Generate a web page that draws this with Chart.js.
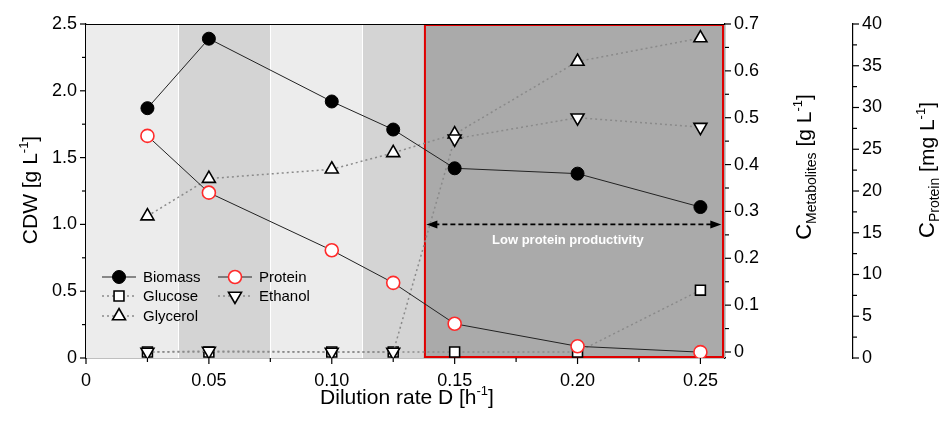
<!DOCTYPE html>
<html>
<head>
<meta charset="utf-8">
<script src="https://cdn.jsdelivr.net/npm/chart.js@4.4.0/dist/chart.umd.min.js"></script>
<style>
  html, body { margin: 0; padding: 0; background: #fff; }
  #wrap { width: 943px; height: 423px; }
</style>
</head>
<body>
<div id="wrap"><canvas id="c" width="943" height="423"></canvas></div>
<script>
// values
const dilution = [0.025, 0.05, 0.10, 0.125, 0.15, 0.20, 0.25];
const biomass  = [1.87, 2.39, 1.92, 1.71, 1.42, 1.38, 1.13];     // g/L, left axis
const protein  = [26.6, 19.8, 12.9, 9.0, 4.1, 1.4, 0.7];        // mg/L, far right axis
const glucose  = [0, 0, 0, 0, 0, 0, 0.132];                      // g/L, metabolites axis
const glycerol = [0.29, 0.37, 0.39, 0.425, 0.465, 0.62, 0.67];
const ethanol  = [0, 0.002, 0, 0, 0.455, 0.50, 0.48];

const xTicks    = [0, 0.025, 0.05, 0.075, 0.10, 0.125, 0.15, 0.175, 0.20, 0.225, 0.25];
const cdwTicks  = [0, 0.25, 0.5, 0.75, 1.0, 1.25, 1.5, 1.75, 2.0, 2.25, 2.5];
const metTicks  = [0, 0.05, 0.1, 0.15, 0.2, 0.25, 0.3, 0.35, 0.4, 0.45, 0.5, 0.55, 0.6, 0.65, 0.7];
const protTicks = [0, 2.5, 5, 7.5, 10, 12.5, 15, 17.5, 20, 22.5, 25, 27.5, 30, 32.5, 35, 37.5, 40];

// shaded regions along x
const bandEdges  = [0, 0.0375, 0.075, 0.1125, 0.1375, 0.26];
const bandColors = ['#ececec', '#d4d4d4', '#ececec', '#d4d4d4', '#aaaaaa'];

const FONT = 'Liberation Sans, Arial, sans-serif';

function pts(ys) { return dilution.map((x, i) => ({x: x, y: ys[i]})); }

function setTicks(list) {
  return function(scale) { scale.ticks = list.map(v => ({value: v})); };
}

function labelFmt(dec, step) {
  return function(v) {
    const r = v / step;
    if (Math.abs(r - Math.round(r)) > 1e-6) return '';
    if (Math.abs(v) < 1e-9) return '0';
    return v.toFixed(dec);
  };
}

const ds = [
  {label: 'Glucose', data: pts(glucose), yAxisID: 'yMet', order: 5,
   borderColor: '#8a8a8a', borderWidth: 1.5, borderDash: [2, 3],
   pointStyle: 'rect', pointRadius: 7, pointBorderColor: '#000', pointBackgroundColor: '#fff', pointBorderWidth: 1.6},
  {label: 'Glycerol', data: pts(glycerol), yAxisID: 'yMet', order: 4,
   borderColor: '#8a8a8a', borderWidth: 1.5, borderDash: [2, 3],
   pointStyle: 'triangle', pointRadius: 7.5, pointBorderColor: '#000', pointBackgroundColor: '#fff', pointBorderWidth: 1.6},
  {label: 'Ethanol', data: pts(ethanol), yAxisID: 'yMet', order: 3,
   borderColor: '#8a8a8a', borderWidth: 1.5, borderDash: [2, 3],
   pointStyle: 'triangle', pointRotation: 180, pointRadius: 7.5, pointBorderColor: '#000', pointBackgroundColor: '#fff', pointBorderWidth: 1.6},
  {label: 'Protein', data: pts(protein), yAxisID: 'yProt', order: 2,
   borderColor: '#222', borderWidth: 1,
   pointStyle: 'circle', pointRadius: 6.5, pointBorderColor: '#ff2a2a', pointBackgroundColor: '#fff', pointBorderWidth: 1.6},
  {label: 'Biomass', data: pts(biomass), yAxisID: 'y', order: 1,
   borderColor: '#222', borderWidth: 1,
   pointStyle: 'circle', pointRadius: 6.5, pointBorderColor: '#000', pointBackgroundColor: '#000', pointBorderWidth: 1}
];

function rich(ctx, parts, cx, cy, rot) {
  ctx.save();
  ctx.translate(cx, cy);
  if (rot) ctx.rotate(rot);
  let w = 0;
  parts.forEach(p => { ctx.font = p.sz + 'px ' + FONT; p.w = ctx.measureText(p.t).width; w += p.w; });
  let x = -w / 2;
  ctx.fillStyle = '#000';
  ctx.textBaseline = 'alphabetic';
  ctx.textAlign = 'left';
  parts.forEach(p => {
    ctx.font = p.sz + 'px ' + FONT;
    ctx.fillText(p.t, x, (p.dy || 0) + 7);
    x += p.w;
  });
  ctx.restore();
}

const decor = {
  id: 'decor',
  beforeDatasetsDraw(chart) {
    const ctx = chart.ctx, a = chart.chartArea, xs = chart.scales.x;
    ctx.save();
    for (let i = 0; i < bandColors.length; i++) {
      const x0 = xs.getPixelForValue(bandEdges[i]);
      const x1 = xs.getPixelForValue(bandEdges[i + 1]);
      ctx.fillStyle = bandColors[i];
      ctx.fillRect(x0, a.top, x1 - x0, a.bottom - a.top);
    }
    // thin white separators between bands
    ctx.strokeStyle = '#ffffff';
    ctx.lineWidth = 1;
    for (let i = 1; i < 4; i++) {
      const x = Math.round(xs.getPixelForValue(bandEdges[i])) + 0.5;
      ctx.beginPath(); ctx.moveTo(x, a.top); ctx.lineTo(x, a.bottom); ctx.stroke();
    }
    // red box around the low productivity region
    const rx0 = xs.getPixelForValue(bandEdges[4]);
    ctx.strokeStyle = '#e00000';
    ctx.lineWidth = 2;
    ctx.strokeRect(rx0 + 1, a.top + 1, a.right - rx0 - 3, a.bottom - a.top - 2);
    // double arrow + label
    const yL = chart.scales.y;
    const ay = yL.getPixelForValue(1.0);
    const ax0 = xs.getPixelForValue(0.1385), ax1 = xs.getPixelForValue(0.2585);
    ctx.strokeStyle = '#000'; ctx.fillStyle = '#000';
    ctx.lineWidth = 1.8;
    ctx.setLineDash([5, 3]);
    ctx.beginPath(); ctx.moveTo(ax0 + 8, ay); ctx.lineTo(ax1 - 8, ay); ctx.stroke();
    ctx.setLineDash([]);
    [[ax0, 1], [ax1, -1]].forEach(([x, d]) => {
      ctx.beginPath(); ctx.moveTo(x, ay); ctx.lineTo(x + 11 * d, ay - 4); ctx.lineTo(x + 11 * d, ay + 4); ctx.closePath(); ctx.fill();
    });
    ctx.fillStyle = '#ffffff';
    ctx.font = 'bold 13px ' + FONT;
    ctx.textAlign = 'center'; ctx.textBaseline = 'middle';
    ctx.fillText('Low protein productivity', (ax0 + ax1) / 2 - 6, yL.getPixelForValue(0.88));
    ctx.restore();
  },
  afterDraw(chart) {
    const ctx = chart.ctx, a = chart.chartArea;
    ctx.save();
    ctx.strokeStyle = '#000'; ctx.lineWidth = 1.2;
    // top frame
    ctx.beginPath(); ctx.moveTo(a.left, a.top + 0.5); ctx.lineTo(a.right, a.top + 0.5); ctx.stroke();
    // tick marks, outward
    function ticks(scale, majorFn, side) {
      scale.ticks.forEach(t => {
        const p = scale.getPixelForValue(t.value);
        const len = majorFn(t.value) ? 6 : 4;
        ctx.beginPath();
        if (side === 'bottom') { ctx.moveTo(p, scale.top); ctx.lineTo(p, scale.top + len); }
        else if (side === 'left') { ctx.moveTo(scale.right, p); ctx.lineTo(scale.right - len, p); }
        else { ctx.moveTo(scale.left, p); ctx.lineTo(scale.left + len, p); }
        ctx.stroke();
      });
    }
    const isMul = step => v => Math.abs(v / step - Math.round(v / step)) < 1e-6;
    ticks(chart.scales.x, isMul(0.05), 'bottom');
    ticks(chart.scales.y, isMul(0.5), 'left');
    ticks(chart.scales.yMet, isMul(0.1), 'right');
    ticks(chart.scales.yProt, isMul(5), 'right');

    // legend
    const entries = [
      ['Biomass', 0, 0, false], ['Protein', 1, 0, false],
      ['Glucose', 0, 1, true], ['Ethanol', 1, 1, true],
      ['Glycerol', 0, 2, true]
    ];
    const colX = [102, 218], rowY = [277, 296, 316];
    entries.forEach(([name, c, r, dotted]) => {
      const d = chart.data.datasets.find(s => s.label === name);
      const x0 = colX[c], y = rowY[r];
      ctx.strokeStyle = dotted ? '#8a8a8a' : '#222';
      ctx.lineWidth = dotted ? 1.5 : 1;
      ctx.setLineDash(dotted ? [2, 3] : []);
      ctx.beginPath(); ctx.moveTo(x0, y); ctx.lineTo(x0 + 34, y); ctx.stroke();
      ctx.setLineDash([]);
      ctx.fillStyle = d.pointBackgroundColor;
      ctx.strokeStyle = d.pointBorderColor;
      ctx.lineWidth = d.pointBorderWidth;
      Chart.helpers.drawPoint(ctx, {pointStyle: d.pointStyle, rotation: d.pointRotation || 0,
        radius: d.pointRadius, borderWidth: d.pointBorderWidth}, x0 + 17, y);
      ctx.fillStyle = '#000';
      ctx.font = '15px ' + FONT;
      ctx.textAlign = 'left'; ctx.textBaseline = 'middle';
      ctx.fillText(name, x0 + 41, y + 1);
    });
    ctx.restore();

    // axis titles
    rich(ctx, [{t: 'CDW [g L', sz: 21}, {t: '-1', sz: 13, dy: -9}, {t: ']', sz: 21}], 30, 190, -Math.PI / 2);
    rich(ctx, [{t: 'Dilution rate D [h', sz: 21}, {t: '-1', sz: 13, dy: -9}, {t: ']', sz: 21}], 407, 397, 0);
    rich(ctx, [{t: 'C', sz: 22}, {t: 'Metabolites', sz: 14, dy: 5}, {t: ' [g L', sz: 21}, {t: '-1', sz: 13, dy: -9}, {t: ']', sz: 21}], 804, 167, -Math.PI / 2);
    rich(ctx, [{t: 'C', sz: 22}, {t: 'Protein', sz: 14, dy: 5}, {t: ' [mg L', sz: 21}, {t: '-1', sz: 13, dy: -9}, {t: ']', sz: 21}], 927, 170, -Math.PI / 2);
  }
};

const tickFont = {family: FONT, size: 18};

new Chart(document.getElementById('c'), {
  type: 'line',
  data: {datasets: ds},
  plugins: [decor],
  options: {
    responsive: false,
    animation: false,
    layout: {padding: {top: 24, left: 0, right: 0, bottom: 0}},
    plugins: {legend: {display: false}, tooltip: {enabled: false}},
    scales: {
      x: {
        type: 'linear', min: 0, max: 0.26,
        afterBuildTicks: setTicks(xTicks),
        afterFit: s => { s.height = 65; },
        grid: {display: false, drawTicks: false},
        border: {display: true, color: '#000', width: 1.2},
        ticks: {font: tickFont, color: '#000', padding: 12, maxRotation: 0, autoSkip: false,
                callback: labelFmt(2, 0.05)}
      },
      y: {
        position: 'left', min: 0, max: 2.5,
        afterBuildTicks: setTicks(cdwTicks),
        afterFit: s => { s.width = 86; },
        grid: {display: false, drawTicks: false},
        border: {display: true, color: '#000', width: 1.2},
        ticks: {font: tickFont, color: '#000', padding: 9, autoSkip: false,
                callback: labelFmt(1, 0.5)}
      },
      yMet: {
        position: 'right', min: -0.0128, max: 0.7,
        afterBuildTicks: setTicks(metTicks),
        afterFit: s => { s.width = 128; },
        grid: {display: false, drawTicks: false},
        border: {display: true, color: '#000', width: 1.2},
        ticks: {font: tickFont, color: '#000', padding: 9, autoSkip: false,
                callback: labelFmt(1, 0.1)}
      },
      yProt: {
        position: 'right', min: 0, max: 40,
        afterBuildTicks: setTicks(protTicks),
        afterFit: s => { s.width = 90; },
        grid: {display: false, drawTicks: false},
        border: {display: true, color: '#000', width: 1.2},
        ticks: {font: tickFont, color: '#000', padding: 9, autoSkip: false,
                callback: v => (Math.abs(v / 5 - Math.round(v / 5)) < 1e-6 ? String(Math.round(v)) : '')}
      }
    }
  }
});
</script>
</body>
</html>
